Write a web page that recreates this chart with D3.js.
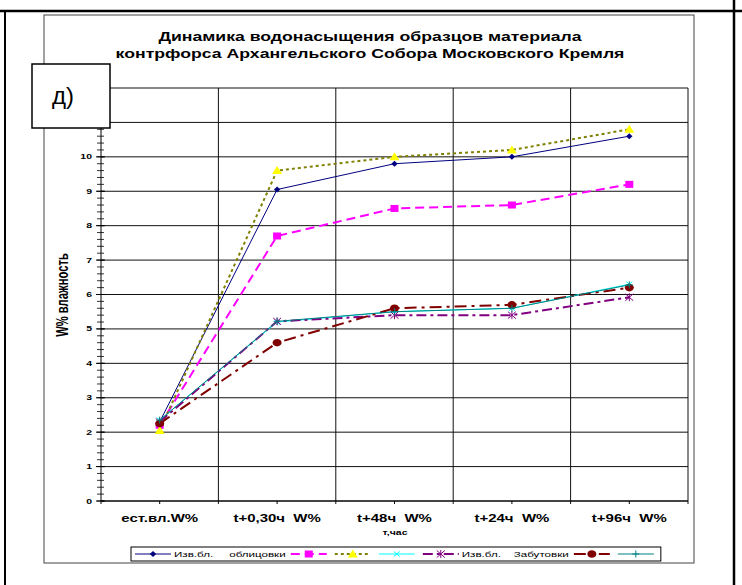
<!DOCTYPE html>
<html>
<head>
<meta charset="utf-8">
<script src="https://cdn.jsdelivr.net/npm/d3@7"></script>
<style>
  body { margin: 0; background: #fff; }
  text { font-family: "Liberation Sans", Arial, sans-serif; white-space: pre; }
</style>
</head>
<body>
<svg id="canvas"></svg>
<script>
const categories = ["ест.вл.W%", "t+0,30ч  W%", "t+48ч  W%", "t+24ч  W%", "t+96ч  W%"];
const yTickLabels = [0, 1, 2, 3, 4, 5, 6, 7, 8, 9, 10, 11, 12];
const seriesNames = ["Изв.бл.     облицовки", "", "", "", "Изв.бл.    Забутовки", "", ""];

const izvOblA = [2.3, 9.05, 9.8, 10.0, 10.6];
const izvOblB = [2.2, 7.7, 8.5, 8.6, 9.2];
const izvOblC = [2.05, 9.6, 10.0, 10.2, 10.8];
const izvZabA = [2.35, 5.2, 5.5, 5.6, 6.3];
const izvZabB = [2.3, 5.22, 5.4, 5.4, 5.92];
const izvZabC = [2.25, 4.6, 5.6, 5.7, 6.2];
const izvZabD = [2.35, 5.22, 5.5, 5.6, 6.28];
const seriesValues = [izvOblA, izvOblB, izvOblC, izvZabA, izvZabB, izvZabC, izvZabD];

const titleLines = ["Динамика водонасыщения образцов материала", "контрфорса Архангельского Собора Московского Кремля"];

const width = 742;
const height = 585;

const styles = [
    { color: "#000080", width: 1, dash: null, marker: "diamond" },
    { color: "#ff00ff", width: 2, dash: "9,5", marker: "square" },
    { color: "#808000", width: 2, dash: "3,3", marker: "triangle", fill: "#ffff00" },
    { color: "#00ffff", width: 1, dash: null, marker: "x" },
    { color: "#800080", width: 2, dash: "10,4,3,4", marker: "star" },
    { color: "#800000", width: 2, dash: "12,5,3,5", marker: "circle" },
    { color: "#008080", width: 1, dash: null, marker: "plus" },
];

const svg = d3.select("#canvas").attr("width", width).attr("height", height);

// table cell border around the chart
svg.append("line").attr("x1", 0).attr("x2", width).attr("y1", 11).attr("y2", 11).attr("stroke", "#000").attr("stroke-width", 2.3);
svg.append("line").attr("x1", 5).attr("x2", 5).attr("y1", 11).attr("y2", height).attr("stroke", "#000").attr("stroke-width", 2);
svg.append("line").attr("x1", 734).attr("x2", 734).attr("y1", 0).attr("y2", height).attr("stroke", "#000").attr("stroke-width", 2.5);

// chart frame
svg.append("rect").attr("x", 44).attr("y", 15).attr("width", 650).attr("height", 548)
    .attr("fill", "#fff").attr("stroke", "#444").attr("stroke-width", 1);

function stretchText(g, x, y, txt, k, kv) {
    return g.append("text")
        .attr("transform", `translate(${x},${y}) scale(${k},${kv || 1})`)
        .text(txt);
}

// title
const titleGroup = svg.append("g").attr("font-weight", "bold").attr("font-size", 13.5).attr("text-anchor", "middle");
const t2 = stretchText(titleGroup, 370, 57.5, titleLines[1], 1);
const kTitle = 509 / t2.node().getComputedTextLength();
t2.attr("transform", `translate(370,57.5) scale(${kTitle},1)`);
stretchText(titleGroup, 370, 41, titleLines[0], kTitle);

const margin = { top: 88, left: 101, right: 688, bottom: 501 };
const x = d3.scaleBand().domain(categories).range([margin.left, margin.right]).padding(0);
const y = d3.scaleLinear().domain([0, 12]).range([margin.bottom, margin.top]);
const bw = x.bandwidth();

const grid = svg.append("g");
grid.selectAll("line.h").data(yTickLabels).join("line")
    .attr("x1", margin.left).attr("x2", margin.right)
    .attr("y1", d => y(d)).attr("y2", d => y(d))
    .attr("stroke", "#111").attr("stroke-width", 1);
grid.selectAll("line.v").data(categories).join("line")
    .attr("x1", d => x(d) + bw).attr("x2", d => x(d) + bw)
    .attr("y1", margin.top).attr("y2", margin.bottom + 3)
    .attr("stroke", "#111").attr("stroke-width", 1);

// x axis ticks
const axis = svg.append("g").attr("stroke", "#000");
axis.append("line").attr("x1", margin.left).attr("x2", margin.right).attr("y1", y(0)).attr("y2", y(0));
axis.selectAll("line.xt").data(categories).join("line")
    .attr("x1", d => x(d) + bw / 2).attr("x2", d => x(d) + bw / 2)
    .attr("y1", y(0)).attr("y2", y(0) + 3);
axis.append("line").attr("x1", margin.left).attr("x2", margin.left).attr("y1", y(0)).attr("y2", y(0) + 3);

// y axis with minor ticks
axis.append("line").attr("x1", margin.left).attr("x2", margin.left).attr("y1", margin.top).attr("y2", margin.bottom);
const minor = d3.range(0, 12.001, 0.2);
axis.selectAll("line.mt").data(minor).join("line")
    .attr("x1", margin.left - 4).attr("x2", margin.left + 3)
    .attr("y1", d => y(d)).attr("y2", d => y(d))
    .attr("stroke-width", 0.8);
axis.selectAll("line.Mt").data(yTickLabels).join("line")
    .attr("x1", margin.left - 5).attr("x2", margin.left + 4)
    .attr("y1", d => y(d)).attr("y2", d => y(d));

const yLab = svg.append("g").attr("font-weight", "bold").attr("font-size", 7).attr("text-anchor", "end");
yTickLabels.forEach(v => stretchText(yLab, 92, y(v) + 2.5, String(v), 1.5));

const xLab = svg.append("g").attr("font-weight", "bold").attr("font-size", 10).attr("text-anchor", "middle");
categories.forEach(c => stretchText(xLab, x(c) + bw / 2, 521.5, c, 1.5));

stretchText(svg.append("g").attr("font-weight", "bold").attr("font-size", 7.5).attr("text-anchor", "middle"),
    395, 535, "т,час", 1.4);

stretchText(svg.append("g").attr("font-weight", "bold").attr("font-size", 11).attr("text-anchor", "middle"),
    68, 295, "W% влажность", 1, 1.45).attr("transform", "translate(68,295) rotate(-90) scale(1.02,1.45)");

// markers
function drawMarker(g, type, cx, cy, st) {
    const m = g.append("g").attr("transform", `translate(${cx},${cy})`);
    if (type === "diamond") {
        m.append("path").attr("d", "M0,-3L3.2,0L0,3L-3.2,0Z").attr("fill", st.color);
    } else if (type === "square") {
        m.append("rect").attr("x", -4).attr("y", -3.5).attr("width", 8).attr("height", 7).attr("fill", st.color);
    } else if (type === "triangle") {
        m.append("path").attr("d", "M0,-4.5L5,3.5L-5,3.5Z").attr("fill", st.fill);
    } else if (type === "x") {
        m.append("path").attr("d", "M-3,-2.5L3,2.5M-3,2.5L3,-2.5").attr("stroke", st.color).attr("stroke-width", 1);
    } else if (type === "star") {
        m.append("path").attr("d", "M-4,-3.5L4,3.5M-4,3.5L4,-3.5M0,-4L0,4").attr("stroke", st.color).attr("stroke-width", 1);
    } else if (type === "circle") {
        m.append("ellipse").attr("rx", 4.5).attr("ry", 3.8).attr("fill", st.color);
    } else if (type === "plus") {
        m.append("path").attr("d", "M-3.5,0L3.5,0M0,-3.5L0,3.5").attr("stroke", st.color).attr("stroke-width", 1);
    }
}

const line = d3.line()
    .x((d, i) => x(categories[i]) + bw / 2)
    .y(d => y(d));

const plot = svg.append("g");
seriesValues.forEach((vals, si) => {
    const st = styles[si];
    plot.append("path")
        .attr("d", line(vals))
        .attr("fill", "none")
        .attr("stroke", st.color)
        .attr("stroke-width", st.width)
        .attr("stroke-dasharray", st.dash);
    vals.forEach((v, i) => drawMarker(plot, st.marker, x(categories[i]) + bw / 2, y(v), st));
});

// "д)" label box
svg.append("rect").attr("x", 32).attr("y", 64).attr("width", 78).attr("height", 64)
    .attr("fill", "#fff").attr("stroke", "#000").attr("stroke-width", 1.5);
svg.append("text").attr("x", 63).attr("y", 104).attr("text-anchor", "middle")
    .attr("font-size", 24).text("д)");

// legend
const legend = svg.append("g");
const legendBox = legend.append("rect").attr("x", 131).attr("y", 547).attr("height", 14)
    .attr("fill", "#fff").attr("stroke", "#000").attr("stroke-width", 1);
let cursor = 135;
const ly = 554;
seriesValues.forEach((vals, si) => {
    const st = styles[si];
    legend.append("line")
        .attr("x1", cursor).attr("x2", cursor + 36)
        .attr("y1", ly).attr("y2", ly)
        .attr("stroke", st.color).attr("stroke-width", st.width)
        .attr("stroke-dasharray", st.dash);
    drawMarker(legend, st.marker, cursor + 18, ly, st);
    cursor += 36;
    if (seriesNames[si]) {
        const t = legend.append("text").attr("font-size", 8).attr("fill", "#000").text(seriesNames[si]);
        const w = t.node().getComputedTextLength() * 1.45;
        t.attr("transform", `translate(${cursor + 3},${ly + 3}) scale(1.45,1)`);
        cursor += 3 + w + 5;
    } else {
        cursor += 8;
    }
});
legendBox.attr("width", cursor - 1 - 131);
</script>
</body>
</html>
